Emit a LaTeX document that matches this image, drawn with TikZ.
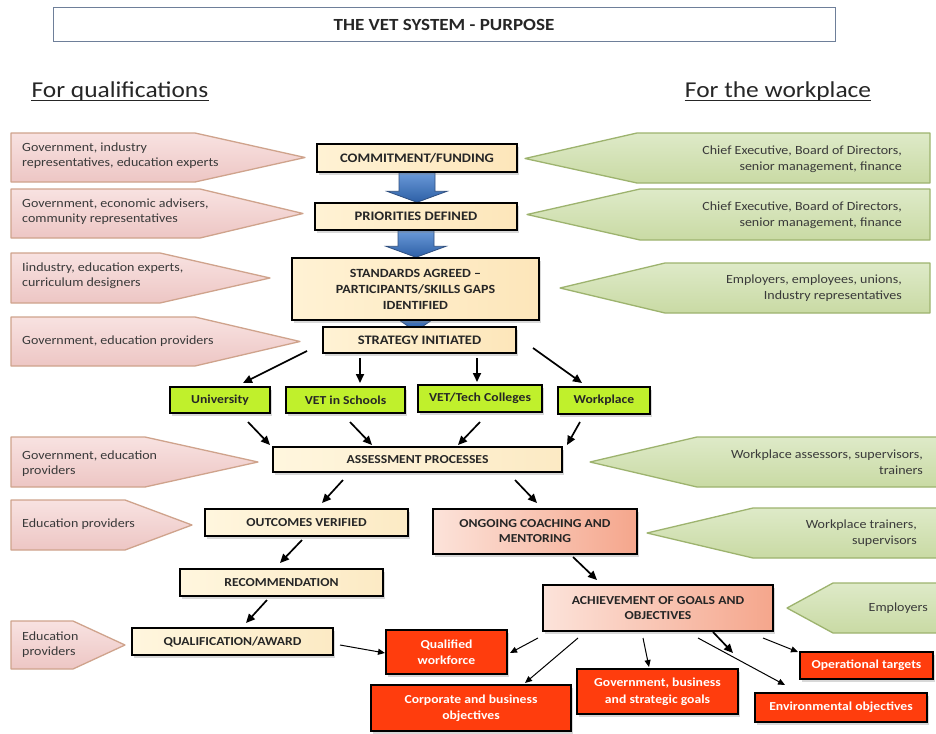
\documentclass[tikz,border=0pt]{standalone}
\usepackage{fontspec}
\setmainfont{Carlito}[FakeStretch=1.12]
\usetikzlibrary{calc,arrows.meta,shadows,backgrounds}
\pgfdeclarelayer{bg0}
\pgfsetlayers{bg0,background,main}
\definecolor{cTxt}{HTML}{262626}
\definecolor{cGTxt}{HTML}{3A3A3A}
\definecolor{cTitle}{HTML}{6E7F99}
\definecolor{cPinkT}{HTML}{F8E2E1}
\definecolor{cPinkB}{HTML}{EDC6C4}
\definecolor{cPinkD}{HTML}{CFA38C}
\definecolor{cGreenT}{HTML}{DEEAC8}
\definecolor{cGreenB}{HTML}{C9DAA4}
\definecolor{cGreenD}{HTML}{9DB36E}
\definecolor{cTopL}{HTML}{FFF2D4}
\definecolor{cTopM}{HTML}{FBD898}
\definecolor{cTopR}{HTML}{FDE6BA}
\definecolor{cCreamL}{HTML}{FFF6DE}
\definecolor{cCreamR}{HTML}{FCEAC4}
\definecolor{cSalL}{HTML}{FCE3DA}
\definecolor{cSalR}{HTML}{F5A68C}
\definecolor{cLime}{HTML}{C0F02C}
\definecolor{cRed}{HTML}{FF3D0D}
\definecolor{cBlueL}{HTML}{6A9AD8}
\definecolor{cBlueD}{HTML}{2D5FA6}
\definecolor{cBlueE}{HTML}{2F4F7F}
\begin{document}
\begin{tikzpicture}[x=1pt,y=-1pt,
  basebox/.style={draw=black, line width=1.4pt, align=center, inner sep=3pt, text=cTxt,
    drop shadow={opacity=0.3,shadow xshift=2pt,shadow yshift=-2.5pt}},
  topbox/.style={basebox, left color=cTopL, middle color=cTopM, right color=cTopR,
    font=\bfseries\fontsize{13}{16}\selectfont},
  creambox/.style={basebox, left color=cCreamL, right color=cCreamR,
    font=\bfseries\fontsize{12.2}{15}\selectfont},
  salbox/.style={basebox, left color=cSalL, right color=cSalR,
    font=\bfseries\fontsize{12.2}{15}\selectfont},
  limebox/.style={basebox, fill=cLime, line width=2.6pt,
    font=\bfseries\fontsize{12.2}{15}\selectfont},
  redbox/.style={basebox, fill=cRed, line width=2.6pt, text=white,
    font=\bfseries\fontsize{12.2}{16.5}\selectfont},
  pinkarr/.style={draw=cPinkD, line width=1.3pt, top color=cPinkT, bottom color=cPinkB, line join=round},
  greenarr/.style={draw=cGreenD, line width=1.3pt, top color=cGreenT, bottom color=cGreenB, line join=round},
  ptext/.style={align=left, inner sep=0pt, text=cGTxt, font=\fontsize{12.5}{15}\selectfont},
  gtext/.style={align=right, inner sep=0pt, text=cGTxt, font=\fontsize{12.5}{16.5}\selectfont},
  bluearr/.style={draw=cBlueE, line width=0.8pt, top color=cBlueL, bottom color=cBlueD},
  arr/.style={line width=1.7pt, -{Triangle[length=9pt,width=8pt]}},
  tarr/.style={line width=1pt, -{Triangle[length=7pt,width=6pt]}},
  hdr/.style={inner sep=0pt, text=cTxt, font=\fontsize{22.7}{26}\selectfont}
]
\useasboundingbox (0,0) rectangle (936,733);
\begin{pgfonlayer}{bg0}
\fill[white] (0,0) rectangle (936,733);
\end{pgfonlayer}
\clip (0,0) rectangle (936,733);

% title and headers
\node[draw=cTitle, line width=1pt, minimum width=782pt, minimum height=34pt, text=cTxt,
  font=\bfseries\fontsize{17}{20}\selectfont] (title) at (444,25) {THE VET SYSTEM - PURPOSE};
\node[hdr] (hq) at (120,91) {For qualifications};
\node[hdr] (hw) at (778,91) {For the workplace};
\draw[line width=1.2pt, cTxt] ([yshift=-3.5pt]hq.base west) -- ([yshift=-3.5pt]hq.base east);
\draw[line width=1.2pt, cTxt] ([yshift=-3.5pt]hw.base west) -- ([yshift=-3.5pt]hw.base east);

% pink arrows (left)
\path[pinkarr] (11,133) -- (195,133) -- (305,157.5) -- (195,182) -- (11,182) -- cycle;
\node[ptext, anchor=west] (p1) at (22,156) {Government, industry\\representatives, education experts};
\path[pinkarr] (11,189) -- (200,189) -- (303,213.5) -- (200,238) -- (11,238) -- cycle;
\node[ptext, anchor=west] (p2) at (22,212) {Government, economic advisers,\\community representatives};
\path[pinkarr] (11,253) -- (160,253) -- (270,278) -- (160,303) -- (11,303) -- cycle;
\node[ptext, anchor=west] (p3) at (22,276) {Iindustry, education experts,\\curriculum designers};
\path[pinkarr] (11,317) -- (195,317) -- (300,341.5) -- (195,366) -- (11,366) -- cycle;
\node[ptext, anchor=west] (p4) at (22,341) {Government, education providers};
\path[pinkarr] (11,437) -- (145,437) -- (258,462) -- (145,487) -- (11,487) -- cycle;
\node[ptext, anchor=west] (p5) at (22,464) {Government, education\\providers};
\path[pinkarr] (11,500) -- (125,500) -- (192,525) -- (125,550) -- (11,550) -- cycle;
\node[ptext, anchor=west] (p6) at (22,524) {Education providers};
\path[pinkarr] (11,621) -- (73,621) -- (125,645) -- (73,669) -- (11,669) -- cycle;
\node[ptext, anchor=west] (p7) at (22,645) {Education\\providers};

% green arrows (right)
\path[greenarr] (525,158.5) -- (637,133) -- (930,133) -- (930,183) -- (637,183) -- cycle;
\node[gtext, anchor=east] (g1) at (902,159) {Chief Executive, Board of Directors,\\senior management, finance};
\path[greenarr] (527,214.5) -- (640,189) -- (930,189) -- (930,240) -- (640,240) -- cycle;
\node[gtext, anchor=east] (g2) at (902,215) {Chief Executive, Board of Directors,\\senior management, finance};
\path[greenarr] (560,288) -- (665,263) -- (930,263) -- (930,313) -- (665,313) -- cycle;
\node[gtext, anchor=east] (g3) at (902,288) {Employers, employees, unions,\\Industry representatives};
\path[greenarr] (590,462) -- (697,437) -- (946,437) -- (946,487) -- (697,487) -- cycle;
\node[gtext, anchor=east] (g4) at (923,462) {Workplace assessors, supervisors,\\trainers};
\path[greenarr] (647,533) -- (753,508) -- (946,508) -- (946,558) -- (753,558) -- cycle;
\node[gtext, anchor=east] (g5) at (917,533) {Workplace trainers,\\supervisors};
\path[greenarr] (787,608) -- (833,583) -- (946,583) -- (946,633) -- (833,633) -- cycle;
\node[gtext, anchor=east] (g6) at (928,608) {Employers};

% central boxes
\node[topbox, minimum width=200pt, minimum height=28pt] (commit) at (417,158) {COMMITMENT/FUNDING};
\node[topbox, minimum width=202pt, minimum height=27pt] (prior) at (416,216.5) {PRIORITIES DEFINED};
\node[topbox, minimum width=247pt, minimum height=62pt, font=\bfseries\fontsize{12.5}{16}\selectfont] (stand) at (415.5,289) {STANDARDS AGREED –\\PARTICIPANTS/SKILLS GAPS\\IDENTIFIED};
\node[topbox, minimum width=193pt, minimum height=26pt] (strat) at (419.5,340) {STRATEGY INITIATED};

\node[limebox, minimum width=100pt, minimum height=26pt] (univ) at (220,400) {University};
\node[limebox, minimum width=119pt, minimum height=26pt] (vets) at (345.5,400) {VET in Schools};
\node[limebox, minimum width=124pt, minimum height=27pt] (vett) at (480,398.5) {VET/Tech Colleges};
\node[limebox, minimum width=92pt, minimum height=27pt] (work) at (604,400.5) {Workplace};

\node[creambox, minimum width=289pt, minimum height=25pt] (assess) at (417.5,459.5) {ASSESSMENT PROCESSES};
\node[creambox, minimum width=203pt, minimum height=27pt] (outc) at (306.5,522.5) {OUTCOMES VERIFIED};
\node[salbox, minimum width=204pt, minimum height=45pt] (ongo) at (535,531.5) {ONGOING COACHING AND\\MENTORING};
\node[creambox, minimum width=203pt, minimum height=27pt] (recom) at (281.5,582.5) {RECOMMENDATION};
\node[creambox, minimum width=201pt, minimum height=27pt] (qual) at (232.5,641.5) {QUALIFICATION/AWARD};
\node[salbox, minimum width=230pt, minimum height=46pt] (achiev) at (658,608) {ACHIEVEMENT OF GOALS AND\\OBJECTIVES};

\node[redbox, minimum width=121pt, minimum height=44pt] (qw) at (446.5,652) {Qualified\\workforce};
\node[redbox, minimum width=200pt, minimum height=46pt] (corp) at (471,708) {Corporate and business\\objectives};
\node[redbox, minimum width=161pt, minimum height=45pt] (gov) at (657.5,691.5) {Government, business\\and strategic goals};
\node[redbox, minimum width=133pt, minimum height=27pt] (ops) at (866.5,665.5) {Operational targets};
\node[redbox, minimum width=172pt, minimum height=29pt] (env) at (841,707.5) {Environmental objectives};
\coordinate (thk) at (733,653);

% blue block arrows
\begin{scope}[on background layer]
\path[bluearr] let \p1=(commit.south), \p2=(prior.north) in
  (\x1-18pt,\y1) -- (\x1+18pt,\y1) -- (\x1+18pt,\y2+11pt) -- (\x1+30pt,\y2+11pt) -- (\x1,\y2)
  -- (\x1-30pt,\y2+11pt) -- (\x1-18pt,\y2+11pt) -- cycle;
\path[bluearr] let \p1=(prior.south), \p2=(stand.north) in
  (\x1-18pt,\y1) -- (\x1+18pt,\y1) -- (\x1+18pt,\y2+11pt) -- (\x1+30pt,\y2+11pt) -- (\x1,\y2)
  -- (\x1-30pt,\y2+11pt) -- (\x1-18pt,\y2+11pt) -- cycle;
\path[bluearr] let \p1=(stand.south), \p2=(strat.north) in
  (\x1-18pt,\y1+16pt) -- (\x1+18pt,\y1+16pt) -- (\x1+18pt,\y1+10pt) -- (\x1+30pt,\y1+10pt) -- (\x1,\y2-5pt)
  -- (\x1-30pt,\y1+10pt) -- (\x1-18pt,\y1+10pt) -- cycle;
\end{scope}

% connectors
\draw[arr] ($(strat)+(-112.5,11)$) -- ($(univ)+(23,-17)$);
\draw[arr] ($(strat)+(-59.5,18)$) -- ($(vets)+(14.5,-17)$);
\draw[arr] ($(strat)+(57.5,18)$) -- ($(vett)+(-3,-16.5)$);
\draw[arr] ($(strat)+(113.5,8)$) -- ($(work)+(-22,-17.5)$);
\draw[arr] ($(univ)+(28,22)$) -- ($(assess)+(-147.5,-14.5)$);
\draw[arr] ($(vets)+(4.5,22)$) -- ($(assess)+(-45.5,-14.5)$);
\draw[arr] ($(vett)+(0,23.5)$) -- ($(assess)+(40.5,-14.5)$);
\draw[arr] ($(work)+(-24,21.5)$) -- ($(assess)+(149.5,-14.5)$);
\draw[arr] ($(assess)+(-74.5,20.5)$) -- ($(outc)+(15.5,-19.5)$);
\draw[arr] ($(assess)+(97.5,20.5)$) -- ($(ongo)+(2,-28.5)$);
\draw[arr] ($(outc)+(-4.5,17.5)$) -- ($(recom)+(-1.5,-19.5)$);
\draw[arr] ($(recom)+(-14.5,17.5)$) -- ($(qual)+(13.5,-18.5)$);
\draw[arr] ($(ongo)+(38,25.5)$) -- ($(achiev)+(-61,-28)$);
\draw[tarr] ($(qual)+(107.5,3.5)$) -- ($(qw)+(-61.5,1)$);
\draw[tarr] ($(achiev)+(-120,30)$) -- ($(qw)+(63.5,1)$);
\draw[tarr] ($(achiev)+(-80,30)$) -- ($(corp)+(54,-25)$);
\draw[tarr] ($(achiev)+(-15,30)$) -- ($(gov)+(-8.5,-24.5)$);
\draw[arr] ($(achiev)+(55,24)$) -- (thk);
\draw[tarr] ($(achiev)+(40,30)$) -- ($(env)+(-56,-22.5)$);
\draw[tarr] ($(achiev)+(105,30)$) -- ($(ops)+(-68.5,-13.5)$);
\end{tikzpicture}
\end{document}
